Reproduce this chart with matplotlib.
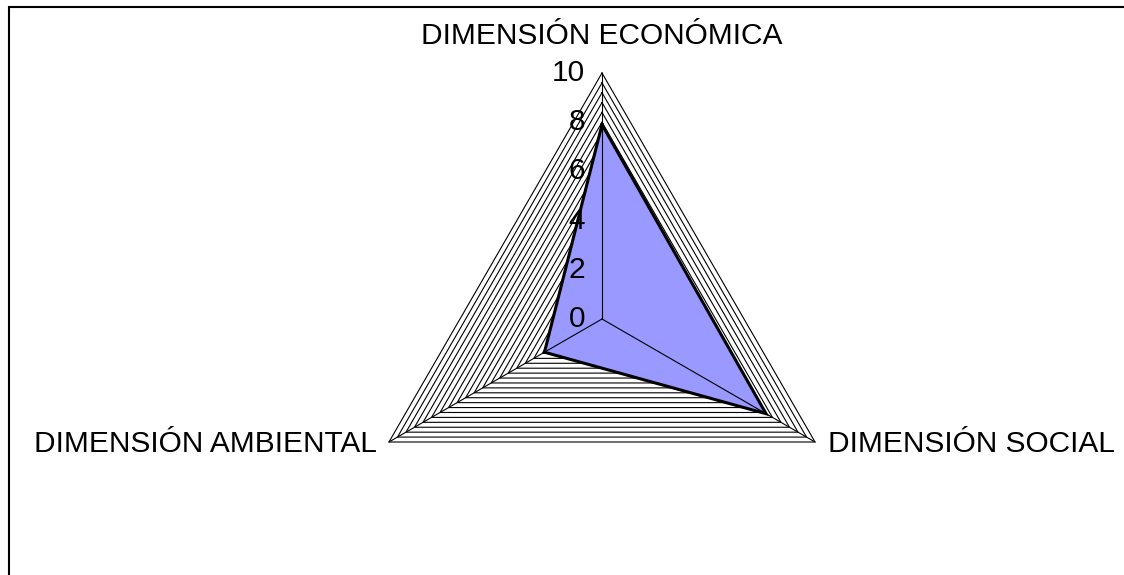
import numpy as np
import matplotlib
matplotlib.use("Agg")
import matplotlib.pyplot as plt
from matplotlib.patches import Rectangle

# ---- data ----
categories = ["DIMENSIÓN ECONÓMICA", "DIMENSIÓN SOCIAL", "DIMENSIÓN AMBIENTAL"]
values = [7.9, 7.7, 2.7]
tick_values = [0, 2, 4, 6, 8, 10]
tick_labels = ["0", "2", "4", "6", "8", "10"]
r_max = 10
minor_step = 0.4

plt.rcParams['font.family'] = ['Liberation Sans', 'DejaVu Sans']

W, H = 1124, 575
fig = plt.figure(figsize=(W / 100, H / 100), dpi=100)

# border (left and top visible)
fig.patches.append(Rectangle((9 / W, -0.1), 1.2, (H - 7) / H + 0.1,
                             transform=fig.transFigure, fill=False,
                             edgecolor='black', linewidth=1.5))

cx, cy, R = 602, H - 319, 246
ax = fig.add_axes([(cx - R) / W, (cy - R) / H, 2 * R / W, 2 * R / H],
                  projection='polar')
ax.set_theta_offset(np.pi / 2)
ax.set_theta_direction(-1)
ax.set_ylim(0, r_max)
ax.grid(False)
ax.set_xticks([])
ax.set_yticks([])
ax.spines['polar'].set_visible(False)
ax.patch.set_alpha(0)

n = len(categories)
angles = np.arange(n) * 2 * np.pi / n
closed_angles = np.append(angles, angles[0])

# dense gridlines
rings = np.arange(minor_step, r_max + 1e-9, minor_step)
for r in rings:
    ax.plot(closed_angles, np.full(n + 1, r), color='black', lw=0.8,
            zorder=1, clip_on=False)

# data polygon
vals_closed = np.append(values, values[0])
ax.fill(closed_angles, vals_closed, facecolor='#9999FF', edgecolor='none',
        zorder=2, clip_on=False)

# spokes
for a in angles:
    ax.plot([a, a], [0, r_max], color='black', lw=0.8, zorder=3, clip_on=False)

ax.plot(closed_angles, vals_closed, color='black', lw=2.2, zorder=4,
        clip_on=False, solid_joinstyle='miter')

# radial tick labels
for v, lab in zip(tick_values, tick_labels):
    ax.annotate(lab, xy=(0, v), xytext=(-12, 0), textcoords='offset points',
                ha='right', va='center', fontsize=21.5, zorder=5,
                annotation_clip=False)

# category labels
offsets = [(0, 27), (9.5, -1.5), (-9, -1.5)]
aligns = [('center', 'center'), ('left', 'center'), ('right', 'center')]
for a, lab, off, (ha, va) in zip(angles, categories, offsets, aligns):
    ax.annotate(lab, xy=(a, r_max), xytext=off, textcoords='offset points',
                ha=ha, va=va, fontsize=21.5, annotation_clip=False)

fig.savefig("out.png", dpi=100)
